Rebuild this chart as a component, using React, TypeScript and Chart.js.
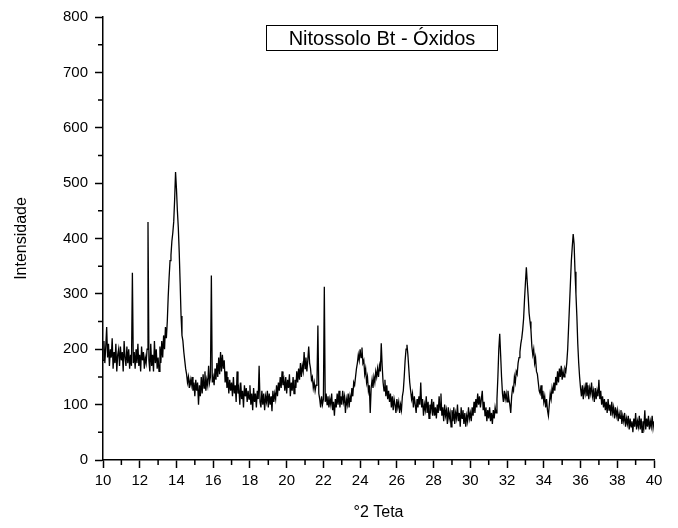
import { useEffect, useRef } from "react";
import { Chart, registerables } from "chart.js";

Chart.register(...registerables);

// Scan definition (°2θ)
const scanStart = 10;
const scanStep = 0.05;

// Intensities, 0.05° steps
const int10to15 = [
  180, 215, 175, 205, 240, 185, 210, 170, 200, 185, 220, 165, 195, 175, 210, 160, 190, 200, 170, 205,
  180, 195, 160, 215, 185, 170, 205, 175, 200, 165, 190, 170, 338, 175, 195, 165, 200, 175, 210, 170,
  190, 160, 205, 180, 195, 165, 185, 175, 200, 430, 180, 160, 210, 170, 190, 160, 215, 175, 200, 165,
  185, 160, 205, 175, 215, 185, 225, 200, 240, 220, 250, 295, 330, 360, 370, 395, 410, 430, 470, 520,
  490, 450, 420, 375, 320, 260, 225, 215, 195, 180, 165, 155, 140, 150, 130, 145, 135, 150, 125, 140,
];
const int15to20 = [
  115, 145, 125, 140, 100, 135, 115, 150, 120, 155, 130, 160, 125, 145, 135, 170, 140, 150, 333, 140,
  150, 135, 165, 145, 175, 150, 185, 155, 195, 160, 190, 165, 180, 140, 160, 130, 150, 120, 145, 125,
  140, 115, 150, 120, 135, 105, 160, 120, 130, 100, 140, 110, 125, 95, 135, 115, 130, 105, 125, 110,
  135, 100, 120, 90, 130, 105, 120, 95, 125, 110, 170, 105, 95, 125, 100, 120, 90, 115, 105, 125,
  95, 120, 100, 115, 88, 125, 105, 120, 110, 135, 115, 140, 125, 150, 130, 160, 135, 145, 125, 150,
];
const int20to25 = [
  120, 145, 130, 155, 115, 140, 125, 150, 120, 145, 130, 160, 140, 165, 145, 175, 150, 170, 160, 195,
  165, 185, 160, 180, 205, 175, 165, 145, 150, 130, 140, 125, 135, 140, 243, 120, 110, 95, 115, 100,
  110, 313, 105, 120, 100, 115, 95, 110, 100, 120, 90, 105, 80, 110, 95, 120, 100, 125, 95, 115,
  100, 125, 105, 115, 85, 110, 100, 120, 95, 115, 105, 130, 115, 140, 135, 150, 165, 175, 190, 180,
  200, 185, 203, 175, 180, 155, 165, 140, 150, 125, 135, 85, 130, 145, 130, 150, 140, 160, 150, 165,
];
const int25to30 = [
  150, 170, 160, 211, 170, 140, 125, 145, 115, 135, 110, 125, 105, 120, 95, 115, 90, 110, 100, 85,
  110, 95, 105, 85, 100, 90, 115, 125, 150, 180, 200, 208, 190, 165, 140, 125, 110, 120, 95, 115,
  100, 85, 110, 95, 115, 100, 140, 95, 110, 80, 100, 90, 115, 85, 105, 75, 100, 90, 110, 80,
  105, 80, 95, 75, 100, 85, 115, 90, 120, 80, 95, 70, 100, 80, 90, 65, 95, 75, 85, 60,
  90, 70, 95, 65, 85, 75, 100, 70, 85, 60, 95, 75, 90, 65, 85, 60, 80, 70, 95, 75,
];
const int30to35 = [
  85, 70, 95, 80, 105, 85, 110, 95, 120, 100, 115, 95, 110, 125, 90, 105, 80, 95, 70, 90,
  75, 95, 70, 85, 65, 90, 75, 95, 85, 110, 150, 200, 228, 190, 150, 120, 105, 125, 110, 120,
  105, 125, 110, 100, 85, 115, 130, 125, 150, 140, 160, 155, 175, 185, 195, 210, 220, 235, 255, 290,
  320, 348, 320, 295, 265, 250, 235, 205, 190, 200, 175, 185, 160, 155, 140, 125, 120, 135, 110, 125,
  105, 115, 95, 110, 90, 80, 100, 120, 110, 130, 120, 140, 125, 150, 135, 160, 140, 165, 150, 170,
];
const int35to40 = [
  145, 160, 150, 165, 160, 175, 200, 240, 280, 320, 360, 385, 408, 390, 340, 300, 260, 210, 175, 150,
  130, 115, 135, 110, 130, 120, 140, 115, 135, 110, 130, 120, 140, 115, 125, 105, 130, 110, 125, 115,
  145, 110, 125, 100, 115, 95, 110, 90, 105, 85, 110, 90, 100, 80, 105, 85, 95, 75, 95, 80,
  90, 70, 85, 75, 90, 65, 80, 70, 85, 60, 75, 65, 80, 55, 75, 60, 70, 50, 75, 60,
  85, 55, 70, 60, 80, 55, 75, 50, 70, 60, 90, 55, 75, 60, 80, 55, 70, 60, 80, 58,
  70,
];

// Axis ticks
const xMin = 10;
const xMax = 40;
const xMajorStep = 2;
const xMinorTicks = [11, 13, 15, 17, 19, 21, 23, 25, 27, 29, 31, 33, 35, 37, 39];
const yMin = 0;
const yMax = 800;
const yMajorStep = 100;
const yMinorTicks = [50, 150, 250, 350, 450, 550, 650, 750];

// Texts
const boxTitle = "Nitossolo Bt - Óxidos";
const xAxisTitle = "°2 Teta";
const yAxisTitle = "Intensidade";

const FONT = "'Liberation Sans', Arial, Helvetica, sans-serif";

export default function App() {
  const ref = useRef<HTMLCanvasElement | null>(null);

  useEffect(() => {
    if (!ref.current) return;
    const intensity = [
      ...int10to15,
      ...int15to20,
      ...int20to25,
      ...int25to30,
      ...int30to35,
      ...int35to40,
    ];
    const points = intensity.map((v, i) => ({
      x: Math.round((scanStart + i * scanStep) * 100) / 100,
      y: v,
    }));

    const minorTickPlugin = {
      id: "minorTicks",
      afterDraw(chart: any) {
        const { ctx, scales } = chart;
        const xs = scales.x;
        const ys = scales.y;
        ctx.save();
        ctx.strokeStyle = "#000";
        ctx.lineWidth = 1.5;
        ctx.beginPath();
        for (const v of xMinorTicks) {
          const px = xs.getPixelForValue(v);
          ctx.moveTo(px, xs.top);
          ctx.lineTo(px, xs.top + 5);
        }
        for (const v of yMinorTicks) {
          const py = ys.getPixelForValue(v);
          ctx.moveTo(ys.right - 5, py);
          ctx.lineTo(ys.right, py);
        }
        ctx.stroke();
        ctx.restore();
      },
    };

    const boxTitlePlugin = {
      id: "boxTitle",
      afterDraw(chart: any) {
        const { ctx } = chart;
        ctx.save();
        ctx.strokeStyle = "#000";
        ctx.lineWidth = 1;
        ctx.strokeRect(266.5, 25.5, 231, 25);
        ctx.fillStyle = "#000";
        ctx.font = `20px ${FONT}`;
        ctx.textAlign = "center";
        ctx.textBaseline = "middle";
        ctx.fillText(boxTitle, 382, 39);
        ctx.restore();
      },
    };

    const chart = new Chart(ref.current, {
      type: "line",
      data: {
        datasets: [
          {
            data: points,
            borderColor: "#000",
            borderWidth: 1.3,
            pointRadius: 0,
            tension: 0,
            fill: false,
          },
        ],
      },
      options: {
        animation: false,
        responsive: false,
        devicePixelRatio: 1,
        layout: { padding: { top: 17, right: 24, left: 0, bottom: 0 } },
        plugins: {
          legend: { display: false },
          tooltip: { enabled: false },
          title: { display: false },
        },
        scales: {
          x: {
            type: "linear",
            min: xMin,
            max: xMax,
            ticks: {
              stepSize: xMajorStep,
              autoSkip: false,
              maxRotation: 0,
              color: "#000",
              font: { family: FONT, size: 15 },
              padding: 4,
            },
            grid: {
              drawOnChartArea: false,
              drawTicks: true,
              tickLength: 8,
              tickColor: "#000",
              tickWidth: 1.5,
            },
            border: { display: true, color: "#000", width: 1.5 },
            title: {
              display: true,
              text: xAxisTitle,
              color: "#000",
              font: { family: FONT, size: 16 },
              padding: { top: 0, bottom: 6 },
            },
            afterFit(scale: any) {
              scale.height = 68;
            },
          },
          y: {
            type: "linear",
            min: yMin,
            max: yMax,
            ticks: {
              stepSize: yMajorStep,
              color: "#000",
              font: { family: FONT, size: 15 },
              padding: 7,
            },
            grid: {
              drawOnChartArea: false,
              drawTicks: true,
              tickLength: 8,
              tickColor: "#000",
              tickWidth: 1.5,
            },
            border: { display: true, color: "#000", width: 1.5 },
            title: {
              display: true,
              text: yAxisTitle,
              color: "#000",
              font: { family: FONT, size: 16 },
              padding: { top: 12, bottom: 0 },
            },
            afterFit(scale: any) {
              scale.width = 103;
            },
          },
        },
      },
      plugins: [minorTickPlugin, boxTitlePlugin],
    } as any);

    return () => chart.destroy();
  }, []);

  return (
    <div
      style={{
        position: "fixed",
        left: 0,
        top: 0,
        width: 678,
        height: 528,
        background: "#fff",
      }}
    >
      <canvas ref={ref} width={678} height={528} />
    </div>
  );
}
